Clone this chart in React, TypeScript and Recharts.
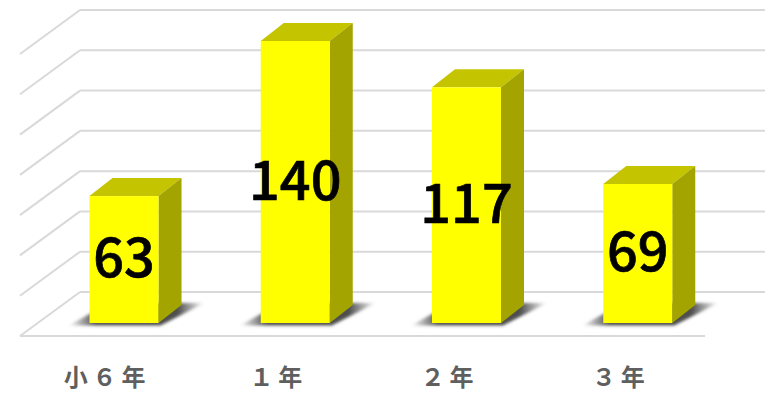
import React from "react";
import { BarChart, Bar, XAxis, YAxis, CartesianGrid, LabelList } from "recharts";

const grades = ["小６年", "１年", "２年", "３年"];
const counts = [63, 140, 117, 69];
const rows = grades.map((grade, i) => ({ grade, count: counts[i] }));

const BAR_DX = 23;
const BAR_DY = 18;
const FLOOR_DX = 60;
const FLOOR_DY = 44;
const FRONT_SHIFT_X = 18.5;
const FRONT_SHIFT_Y = 13;
const GRID_COLOR = "#d9d9d9";

// Back wall line plus its diagonal on the left wall; the zero line also gets the floor's front edge.
function gridLine(props: any) {
  const { x1, x2, y1, index } = props;
  const frontX = x1 - FRONT_SHIFT_X;
  const frontEnd = x2 - FRONT_SHIFT_X;
  const backX = frontX + FLOOR_DX;
  const backY = y1 - (FLOOR_DY - FRONT_SHIFT_Y);
  const frontY = backY + FLOOR_DY;
  const isZero = y1 > 300;
  return (
    <g key={`grid-${index}-${y1}`} stroke={GRID_COLOR} strokeWidth={2} fill="none">
      <line x1={backX} y1={backY} x2={frontEnd + FLOOR_DX} y2={backY} />
      <line x1={frontX} y1={frontY} x2={backX} y2={backY} />
      {isZero && <line x1={frontX} y1={frontY} x2={frontEnd} y2={frontY} />}
    </g>
  );
}

// Extruded box with a soft shadow falling on the floor.
function Box3D(props: any) {
  const { x, y, width: w, height: h } = props;
  const bottom = y + h;
  const right = x + w;
  return (
    <g>
      <polygon
        points={`${x - 21},${bottom + 2.5} ${right + 2},${bottom + 2.5} ${right + 46},${bottom - 20} ${x + 20},${bottom - 20}`}
        fill="url(#floorShadow)"
        filter="url(#shadowBlur)"
      />
      <polygon
        points={`${x},${y} ${x + BAR_DX},${y - BAR_DY} ${right + BAR_DX},${y - BAR_DY} ${right},${y}`}
        fill="#c4c400"
      />
      <polygon
        points={`${right},${y} ${right + BAR_DX},${y - BAR_DY} ${right + BAR_DX},${bottom - BAR_DY} ${right},${bottom}`}
        fill="#a4a400"
      />
      <rect x={x} y={y} width={w} height={h} fill="#ffff00" />
    </g>
  );
}

// Count printed in the middle of the box front.
function CountLabel(props: any) {
  const { x, y, width, height, value } = props;
  return (
    <text
      x={x + width / 2}
      y={y + height / 2 - 6}
      textAnchor="middle"
      dominantBaseline="central"
      fill="#000"
      stroke="#000"
      strokeWidth={0.7}
      fontSize={54}
      fontWeight={500}
      fontFamily="'Noto Sans CJK JP'"
    >
      {value}
    </text>
  );
}

export default function App() {
  return (
    <div style={{ position: "absolute", left: 0, top: 0, width: 768, height: 394, background: "#fff" }}>
      <BarChart
        width={768}
        height={394}
        data={rows}
        margin={{ top: 41, right: 44.5, bottom: 0, left: 38.5 }}
        barCategoryGap={0}
      >
        <defs>
          <linearGradient id="floorShadow" x1="0" y1="0" x2="1" y2="0">
            <stop offset="0" stopColor="#444" stopOpacity={0} />
            <stop offset="0.2" stopColor="#444" stopOpacity={0.95} />
            <stop offset="0.8" stopColor="#444" stopOpacity={0.95} />
            <stop offset="1" stopColor="#444" stopOpacity={0} />
          </linearGradient>
          <filter id="shadowBlur" x="-10%" y="-30%" width="120%" height="160%">
            <feGaussianBlur stdDeviation="1.8" />
          </filter>
        </defs>
        <CartesianGrid vertical={false} horizontal={gridLine} syncWithTicks />
        <XAxis
          dataKey="grade"
          height={71}
          axisLine={false}
          tickLine={false}
          interval={0}
          tickMargin={40}
          dx={-17}
          tick={{
            fill: "#5f5f5f",
            fontSize: 24,
            fontWeight: 700,
            letterSpacing: 5,
            fontFamily: "'Noto Sans CJK JP'",
          }}
        />
        <YAxis hide domain={[0, 140]} ticks={[0, 20, 40, 60, 80, 100, 120, 140]} />
        <Bar dataKey="count" barSize={69} shape={Box3D} isAnimationActive={false}>
          <LabelList dataKey="count" content={CountLabel} />
        </Bar>
      </BarChart>
    </div>
  );
}
